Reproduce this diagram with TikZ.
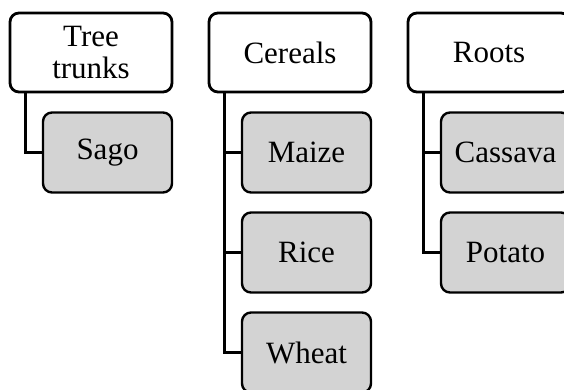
\documentclass[tikz,border=0pt]{standalone}
\usepackage{fontspec}
\setmainfont{Liberation Serif}
\definecolor{childgray}{HTML}{D3D3D3}
\begin{document}
\begin{tikzpicture}[x=1pt,y=-1pt,
  parentbox/.style={draw=black, line width=2.8pt, rounded corners=9pt, fill=white,
    minimum width=162pt, minimum height=79pt, inner sep=0pt, align=center,
    font=\fontsize{31}{32}\selectfont},
  childbox/.style={draw=black, line width=2.4pt, rounded corners=9pt, fill=childgray,
    minimum width=129pt, minimum height=80pt, inner sep=0pt, align=center,
    font=\fontsize{31}{32}\selectfont},
  conn/.style={draw=black, line width=2.4pt}]
\useasboundingbox (0,0) rectangle (564,389);
\clip (0,0) rectangle (564,389);
% parents
\node[parentbox] (p1) at (91,52.5) {Tree\\trunks};
\node[parentbox] (p2) at (290,52.5) {Cereals};
\node[parentbox] (p3) at (489,52.5) {Roots};
% children
\node[childbox] (sago) at (107.5,152.5) {Sago};
\node[childbox] (maize) at (306.5,152.5) {Maize};
\node[childbox] (rice) at (306.5,252.5) {Rice};
\node[childbox] (wheat) at (306.5,352.5) {Wheat};
\node[childbox] (cassava) at (505.5,152.5) {Cassava};
\node[childbox] (potato) at (505.5,252.5) {Potato};
% connectors
\draw[conn] ([xshift=17pt]p1.south west) |- (sago.west);
\draw[conn] ([xshift=17pt]p2.south west) |- (maize.west);
\draw[conn] ([xshift=17pt]p2.south west) |- (rice.west);
\draw[conn] ([xshift=17pt]p2.south west) |- (wheat.west);
\draw[conn] ([xshift=17pt]p3.south west) |- (cassava.west);
\draw[conn] ([xshift=17pt]p3.south west) |- (potato.west);
\end{tikzpicture}
\end{document}
